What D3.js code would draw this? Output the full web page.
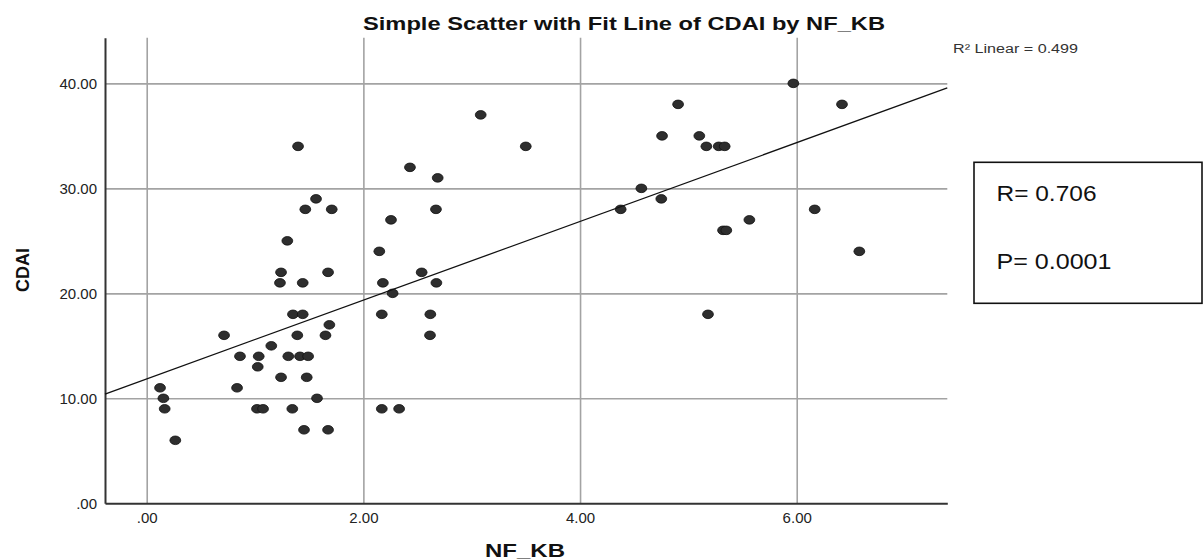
<!DOCTYPE html>
<html>
<head>
<meta charset="utf-8">
<script src="https://cdn.jsdelivr.net/npm/d3@7"></script>
<style>
  html, body { margin: 0; padding: 0; background: #fff; }
  svg { display: block; }
  text { font-family: "Liberation Sans", Arial, sans-serif; }
</style>
</head>
<body>
<svg id="chart" width="1204" height="560"></svg>
<script>
// NF_KB (x) and CDAI (y) for each case
const nfkb = [
  0.123, 0.154, 0.166, 0.264, 0.714, 0.834, 0.861, 1.018, 1.074, 1.025,
  1.034, 1.150, 1.230, 1.240, 1.240, 1.298, 1.307, 1.344, 1.350, 1.390,
  1.397, 1.415, 1.440, 1.440, 1.452, 1.464, 1.477, 1.490, 1.563, 1.572,
  1.650, 1.674, 1.674, 1.686, 1.708, 2.147, 2.170, 2.170, 2.180, 2.255,
  2.270, 2.330, 2.430, 2.538, 2.615, 2.618, 2.670, 2.674, 2.686, 3.083,
  3.499, 4.375, 4.566, 4.750, 4.757, 4.905, 5.101, 5.166, 5.181, 5.280,
  5.335, 5.320, 5.350, 5.563, 5.969, 6.166, 6.418, 6.578
];
const cdai = [
  11, 10, 9, 6, 16, 11, 14, 9, 9, 13,
  14, 15, 21, 22, 12, 25, 14, 9, 18, 16,
  34, 14, 18, 21, 7, 28, 12, 14, 29, 10,
  16, 22, 7, 17, 28, 24, 18, 9, 21, 27,
  20, 9, 32, 22, 16, 18, 28, 21, 31, 37,
  34, 28, 30, 29, 35, 38, 35, 34, 18, 34,
  34, 26, 26, 27, 40, 28, 38, 24
];

// Linear fit line
const fitIntercept = 11.85;
const fitSlope = 3.75;

// Axis ticks
const xTicks = [0, 2, 4, 6];
const xTickLabels = [".00", "2.00", "4.00", "6.00"];
const yTicks = [0, 10, 20, 30, 40];
const yTickLabels = [".00", "10.00", "20.00", "30.00", "40.00"];

// Text
const titleText = "Simple Scatter with Fit Line of CDAI by NF_KB";
const xLabel = "NF_KB";
const yLabel = "CDAI";
const r2Text = "R\u00B2 Linear = 0.499";
const statLines = ["R= 0.706", "P= 0.0001"];

const svg = d3.select("#chart");

const plot = { left: 105, right: 947.3, top: 37.7, bottom: 503.3 };

const x = d3.scaleLinear().domain([-0.385, 7.39]).range([plot.left, plot.right]);
const y = d3.scaleLinear().domain([0, 44.35]).range([plot.bottom, plot.top]);

// Grid lines
const gridColor = "#a3a3a3";
svg.append("g")
  .attr("transform", `translate(0,${plot.bottom})`)
  .call(d3.axisBottom(x).tickValues(xTicks).tickSize(-(plot.bottom - plot.top)).tickFormat(""))
  .call(g => g.select(".domain").remove())
  .call(g => g.selectAll("line").attr("stroke", gridColor).attr("stroke-width", 1.6));

svg.append("g")
  .attr("transform", `translate(${plot.left},0)`)
  .call(d3.axisLeft(y).tickValues(yTicks.filter(d => d > 0)).tickSize(-(plot.right - plot.left)).tickFormat(""))
  .call(g => g.select(".domain").remove())
  .call(g => g.selectAll("line").attr("stroke", gridColor).attr("stroke-width", 1.6));

// Axes
const xAxis = svg.append("g")
  .attr("transform", `translate(0,${plot.bottom})`)
  .call(d3.axisBottom(x).tickValues(xTicks).tickSize(0).tickPadding(9)
    .tickFormat((d, i) => xTickLabels[i]));
xAxis.select(".domain").attr("stroke", "#333").attr("stroke-width", 2);
xAxis.selectAll("text").attr("font-size", 15).attr("fill", "#222")
  .attr("font-family", "Liberation Sans, Arial, sans-serif");

const yAxis = svg.append("g")
  .attr("transform", `translate(${plot.left},0)`)
  .call(d3.axisLeft(y).tickValues(yTicks).tickSize(0).tickPadding(8)
    .tickFormat((d, i) => yTickLabels[i]));
yAxis.select(".domain").attr("stroke", "#333").attr("stroke-width", 2);
yAxis.selectAll("text").attr("font-size", 15).attr("fill", "#222")
  .attr("font-family", "Liberation Sans, Arial, sans-serif");

// Points
const points = nfkb.map((v, i) => ({ x: v, y: cdai[i] }));
svg.append("g")
  .selectAll("ellipse")
  .data(points)
  .join("ellipse")
  .attr("cx", d => x(d.x))
  .attr("cy", d => y(d.y))
  .attr("rx", 5.4)
  .attr("ry", 4.3)
  .attr("fill", "#2e2e2e")
  .attr("stroke", "#111")
  .attr("stroke-width", 0.8);

// Fit line across the full x range
const [x0, x1] = x.domain();
svg.append("line")
  .attr("x1", x(x0)).attr("y1", y(fitIntercept + fitSlope * x0))
  .attr("x2", x(x1)).attr("y2", y(fitIntercept + fitSlope * x1))
  .attr("stroke", "#111")
  .attr("stroke-width", 1.3);

// Title and axis titles
svg.append("text")
  .attr("x", 363).attr("y", 30)
  .attr("font-size", 19).attr("font-weight", "bold").attr("fill", "#111")
  .attr("textLength", 522).attr("lengthAdjust", "spacingAndGlyphs")
  .text(titleText);

svg.append("text")
  .attr("x", 485).attr("y", 557)
  .attr("font-size", 18).attr("font-weight", "bold").attr("fill", "#111")
  .attr("textLength", 80).attr("lengthAdjust", "spacingAndGlyphs")
  .text(xLabel);

svg.append("text")
  .attr("transform", "translate(29,270) rotate(-90)")
  .attr("text-anchor", "middle")
  .attr("font-size", 18).attr("font-weight", "bold").attr("fill", "#111")
  .text(yLabel);

// R² annotation
svg.append("text")
  .attr("x", 953).attr("y", 53)
  .attr("font-size", 12.5).attr("fill", "#333")
  .attr("textLength", 125).attr("lengthAdjust", "spacingAndGlyphs")
  .text(r2Text);

// Statistics box
svg.append("rect")
  .attr("x", 974).attr("y", 162.3)
  .attr("width", 228).attr("height", 141)
  .attr("fill", "#fff").attr("stroke", "#111").attr("stroke-width", 1.6);

const statWidths = [100, 115];
const statBaselines = [201, 269];
svg.append("g")
  .selectAll("text")
  .data(statLines)
  .join("text")
  .attr("x", 996.5)
  .attr("y", (d, i) => statBaselines[i])
  .attr("font-family", "Lato, 'Open Sans', sans-serif")
  .attr("font-size", 22).attr("fill", "#111")
  .attr("textLength", (d, i) => statWidths[i]).attr("lengthAdjust", "spacingAndGlyphs")
  .text(d => d);
</script>
</body>
</html>
